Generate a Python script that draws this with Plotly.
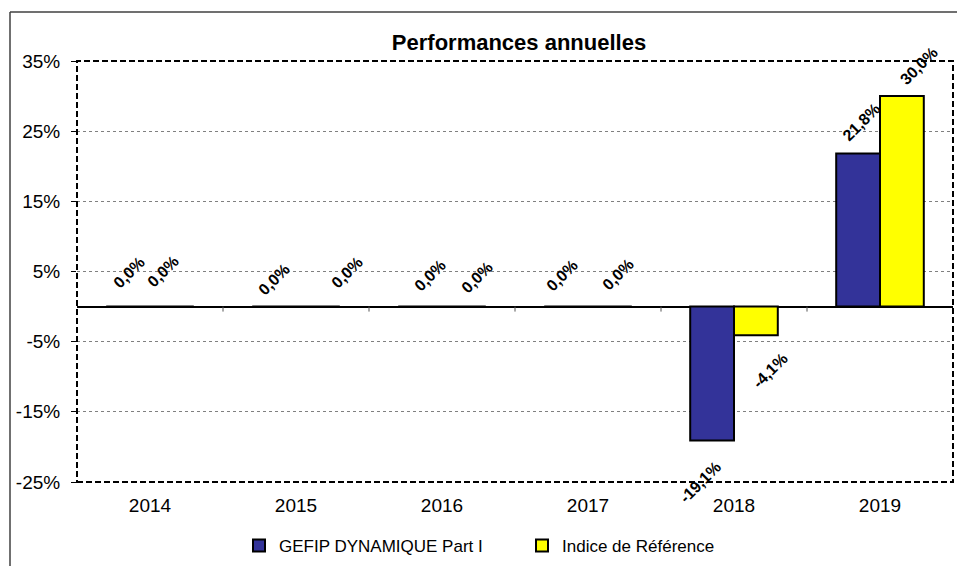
import plotly.graph_objects as go

# ---- data ----
years = ["2014", "2015", "2016", "2017", "2018", "2019"]
fund_name = "GEFIP DYNAMIQUE Part I"
bench_name = "Indice de Référence"
fund_perf = [0.0, 0.0, 0.0, 0.0, -19.1, 21.8]
bench_perf = [0.0, 0.0, 0.0, 0.0, -4.1, 30.0]
y_tick_vals = [-25, -15, -5, 5, 15, 25, 35]
y_tick_text = ["-25%", "-15%", "-5%", "5%", "15%", "25%", "35%"]
title_text = "Performances annuelles"

# ---- styling / label nudges (pixels) ----
FONT = "Arial, 'Liberation Sans', sans-serif"
BLUE = "#333399"
YELLOW = "#FFFF00"
bar_half = 22
fund_dx = [1, 0, 10, -4, -12, 3]
fund_dy = [34, 27, 31, 31, -42, 31]
bench_dx = [-9, 29, 13, 8, 14, 16]
bench_dy = [35, 34, 29, 32, -35, 30]

# page body has an 8px margin -> figure is offset by 8px in the window
OFF = 8
W, H = 965 - OFF, 566 - OFF
ML, MT = 77 - OFF, 61 - OFF
pw, ph = 876, 421
MR, MB = W - ML - pw, H - MT - ph


def fmt(v):
    return f"{v:.1f}".replace(".", ",") + "%"


fig = go.Figure()
fig.add_trace(go.Bar(x=years, y=fund_perf, name=fund_name,
                     marker=dict(color=BLUE, line=dict(color="black", width=2))))
fig.add_trace(go.Bar(x=years, y=bench_perf, name=bench_name,
                     marker=dict(color=YELLOW, line=dict(color="black", width=2))))

annotations = []
for i, yr in enumerate(years):
    for vals, sgn, dxs, dys in ((fund_perf, -1, fund_dx, fund_dy),
                                (bench_perf, 1, bench_dx, bench_dy)):
        annotations.append(dict(
            x=i, y=vals[i], xref="x", yref="y", text=fmt(vals[i]),
            showarrow=False, textangle=-45,
            xanchor="center", yanchor="middle",
            xshift=sgn * bar_half + dxs[i], yshift=dys[i],
            font=dict(family=FONT, size=16, color="black", weight="bold")))

# screen pixel -> paper fraction
px2x = lambda p: (p - OFF - ML) / pw
px2y = lambda p: (MT + ph - (p - OFF)) / ph

shapes = [
    # dashed plot-area frame
    dict(type="rect", xref="paper", yref="paper", x0=0, x1=1, y0=0, y1=1,
         line=dict(color="black", width=2, dash="6px,3px"), layer="above"),
    # outer chart border (top & left visible)
    dict(type="line", xref="paper", yref="paper", x0=px2x(10), x1=px2x(980),
         y0=px2y(12), y1=px2y(12), line=dict(color="#404040", width=1.5)),
    dict(type="line", xref="paper", yref="paper", x0=px2x(10), x1=px2x(10),
         y0=px2y(12), y1=px2y(580), line=dict(color="#404040", width=1.5)),
]
# category-boundary tick marks on the zero line
for i in range(len(years) - 1):
    shapes.append(dict(type="line", xref="x", yref="y", ysizemode="pixel",
                       yanchor=0, x0=i + 0.5, x1=i + 0.5, y0=0, y1=-5,
                       line=dict(color="#555555", width=1)))

fig.update_layout(
    width=W, height=H,
    margin=dict(l=ML, r=MR, t=MT, b=MB, autoexpand=False),
    paper_bgcolor="white", plot_bgcolor="white",
    barmode="group", bargap=0.4, bargroupgap=0,
    font=dict(family=FONT, color="black"),
    title=dict(text="<b>" + title_text + "</b>", x=px2x(519), xref="paper",
               xanchor="center", y=1 - (42 - OFF) / H, yanchor="middle",
               font=dict(family=FONT, size=22, color="black")),
    xaxis=dict(type="category", range=[-0.5, len(years) - 0.5], autorange=False,
               showgrid=False, showline=False, zeroline=False,
               ticks="", tickfont=dict(size=19), ticklabelstandoff=10),
    yaxis=dict(range=[-25, 35], autorange=False,
               tickvals=y_tick_vals, ticktext=y_tick_text,
               showgrid=True, gridcolor="#808080", gridwidth=1, griddash="dot",
               zeroline=True, zerolinecolor="black", zerolinewidth=2,
               ticks="outside", ticklen=5, tickcolor="black",
               tickfont=dict(size=19), ticklabelstandoff=7, showline=False),
    legend=dict(orientation="h", x=px2x(239), xanchor="left",
                y=px2y(546), yanchor="middle",
                entrywidth=238, entrywidthmode="pixels",
                font=dict(family=FONT, size=17, color="black"),
                bgcolor="rgba(0,0,0,0)", traceorder="normal"),
    annotations=annotations,
    shapes=shapes,
)

fig.write_html("out.html")
